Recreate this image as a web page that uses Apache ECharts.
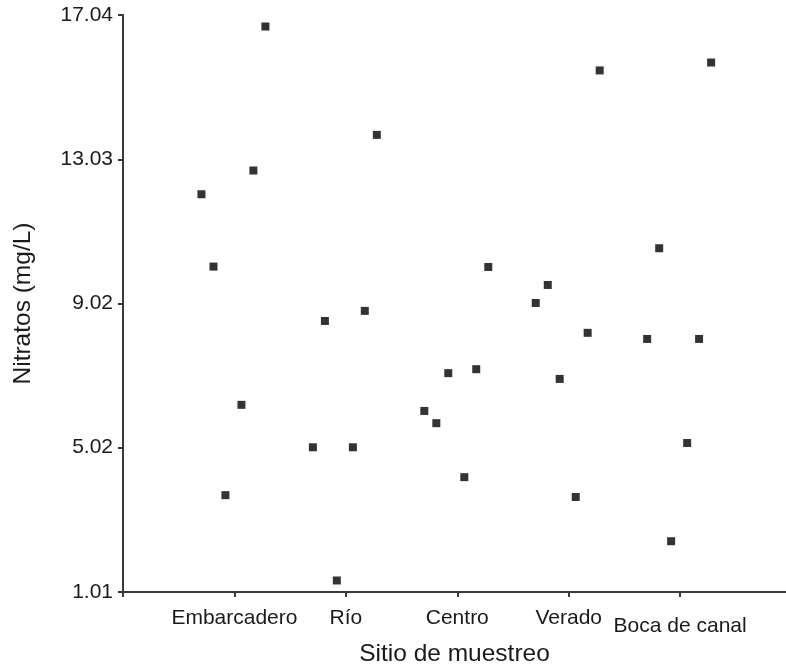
<!DOCTYPE html>
<html>
<head>
<meta charset="utf-8">
<script src="https://cdn.jsdelivr.net/npm/echarts@6/dist/echarts.min.js"></script>
<style>
  html, body { margin: 0; padding: 0; background: #fff; }
  #chart { width: 786px; height: 665px; }
</style>
</head>
<body>
<div id="chart"></div>
<script>
// Sampling sites along the x axis (positions 1..5)
const sites = ['Embarcadero', 'Río', 'Centro', 'Verado', 'Boca de canal'];

// Horizontal spread of the six samples within each site (in site units)
const spread = [-0.296, -0.188, -0.081, 0.063, 0.170, 0.278];

// Nitrate concentrations (mg/L), six samples per site, ordered by spread slot
const embarcadero = [12.06, 10.05, 3.70, 6.21, 12.72, 16.72];
const rio         = [5.03, 8.54, 1.33, 5.03, 8.82, 13.71];
const centro      = [6.04, 5.70, 7.09, 4.20, 7.20, 10.04];
const verado      = [9.04, 9.54, 6.93, 3.65, 8.21, 15.50];
const bocaCanal   = [8.04, 10.56, 2.42, 5.15, 8.04, 15.72];

// Y axis tick values
const yTicks = [1.01, 5.02, 9.02, 13.03, 17.04];

const groups = [embarcadero, rio, centro, verado, bocaCanal];
const points = [];
groups.forEach((vals, gi) => {
  vals.forEach((v, k) => points.push([gi + 1 + spread[k], v]));
});

const font = '"Liberation Sans", Arial, sans-serif';
const axisColor = '#3a3a3a';
const textColor = '#1a1a1a';

const chart = echarts.init(document.getElementById('chart'), null, { renderer: 'canvas' });
chart.setOption({
  animation: false,
  backgroundColor: '#ffffff',
  grid: { left: 123, right: 0, top: 15, bottom: 73, containLabel: false, outerBoundsMode: 'none' },
  xAxis: {
    type: 'value',
    min: 0,
    max: 5.95,
    name: 'Sitio de muestreo',
    nameLocation: 'middle',
    nameGap: 41,
    nameTextStyle: { fontFamily: font, fontSize: 24.5, color: textColor },
    axisLine: { show: true, lineStyle: { color: axisColor, width: 2 } },
    axisTick: { show: true, length: 5, customValues: [0, 1, 2, 3, 4, 5], lineStyle: { color: axisColor, width: 2 } },
    axisLabel: {
      customValues: [1, 2, 3, 4, 5],
      margin: 16,
      fontFamily: font,
      fontSize: 21,
      color: textColor,
      formatter: v => {
        const name = sites[Math.round(v) - 1] || '';
        return Math.round(v) === 5 ? '{low|' + name + '}' : name;
      },
      rich: { low: { fontFamily: font, fontSize: 21, color: textColor, padding: [8, 0, 0, 0] } }
    },
    splitLine: { show: false }
  },
  yAxis: {
    type: 'value',
    min: 1.01,
    max: 17.04,
    name: 'Nitratos (mg/L)',
    nameLocation: 'middle',
    nameRotate: 90,
    nameGap: 87,
    nameTextStyle: { fontFamily: font, fontSize: 24.5, color: textColor },
    axisLine: { show: true, lineStyle: { color: axisColor, width: 2 } },
    axisTick: { show: true, length: 5, customValues: yTicks, lineStyle: { color: axisColor, width: 2 } },
    axisLabel: {
      customValues: yTicks,
      margin: 10,
      fontFamily: font,
      fontSize: 21,
      color: textColor,
      formatter: v => v.toFixed(2)
    },
    splitLine: { show: false }
  },
  series: [{
    type: 'scatter',
    data: points,
    symbol: 'rect',
    symbolSize: 8,
    itemStyle: { color: '#000000' }
  }]
});
</script>
</body>
</html>
